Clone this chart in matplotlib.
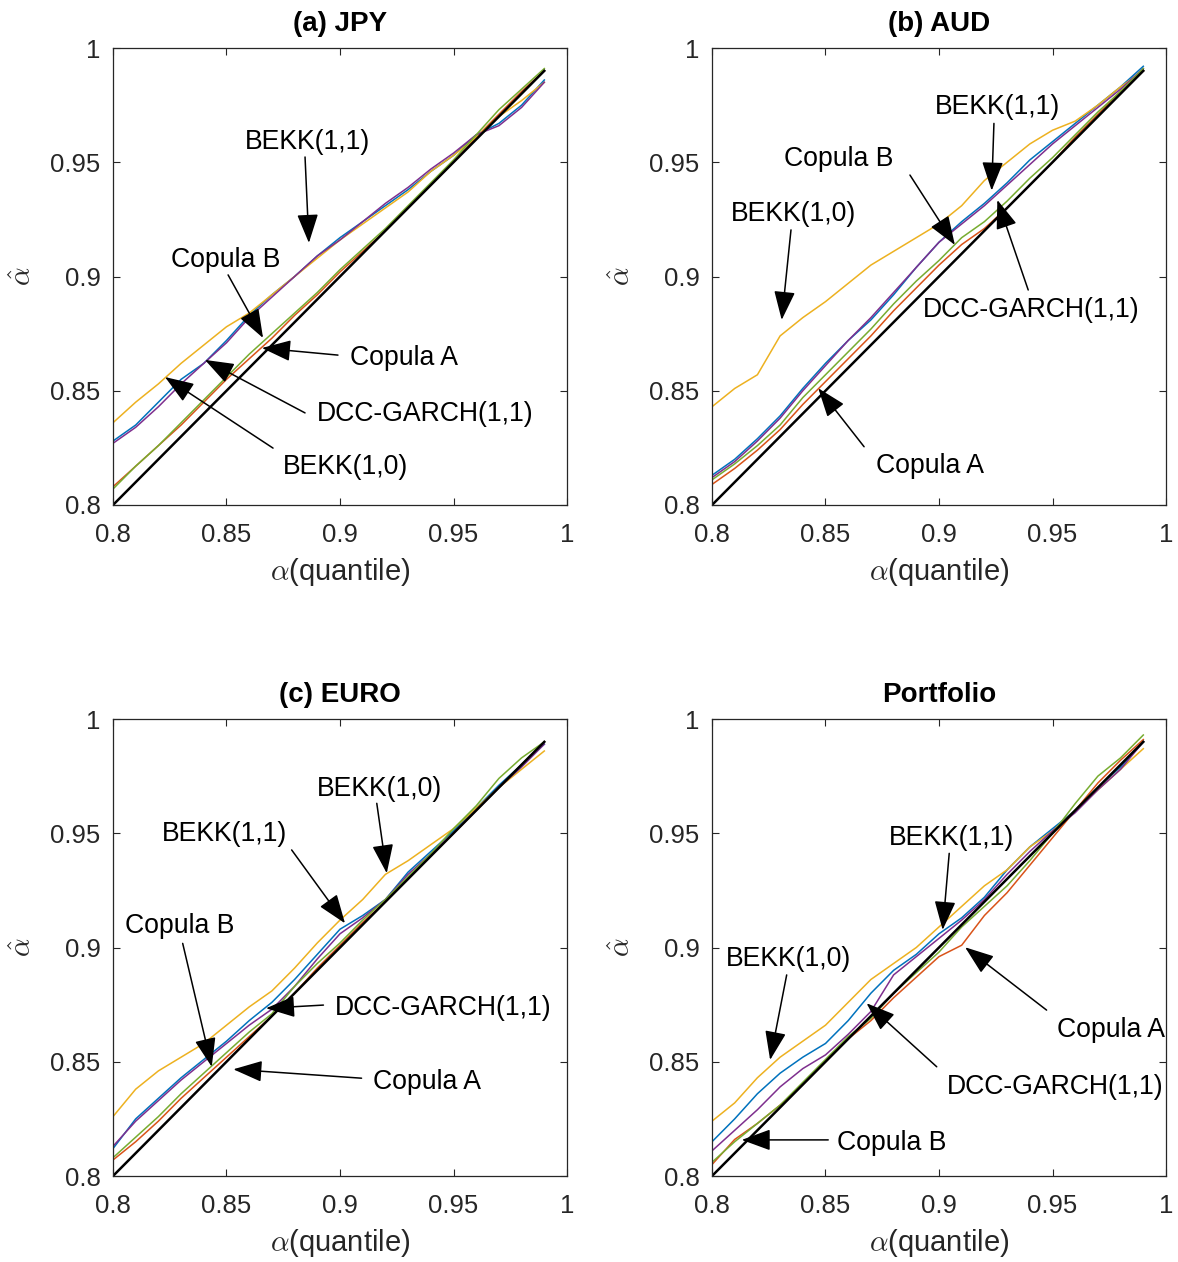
import matplotlib
matplotlib.use("Agg")
import matplotlib.pyplot as plt

plt.rcParams['font.family'] = ['Liberation Sans', 'DejaVu Sans']
plt.rcParams['mathtext.fontset'] = 'cm'

# ---------------- data ----------------
alpha_grid = [0.80, 0.81, 0.82, 0.83, 0.84, 0.85, 0.86, 0.87, 0.88, 0.89,
              0.90, 0.91, 0.92, 0.93, 0.94, 0.95, 0.96, 0.97, 0.98, 0.99]

panel_titles = ["(a) JPY", "(b) AUD", "(c) EURO", "Portfolio"]
model_names = ["BEKK(1,1)", "Copula A", "BEKK(1,0)", "DCC-GARCH(1,1)", "Copula B"]

# JPY
jpy_bekk11 = [0.828, 0.835, 0.845, 0.855, 0.862, 0.872, 0.883, 0.892, 0.900, 0.909,
              0.917, 0.924, 0.931, 0.938, 0.946, 0.953, 0.962, 0.967, 0.975, 0.986]
jpy_copulaA = [0.808, 0.817, 0.826, 0.835, 0.845, 0.855, 0.864, 0.873, 0.883, 0.892,
               0.902, 0.911, 0.920, 0.930, 0.940, 0.950, 0.961, 0.971, 0.981, 0.990]
jpy_bekk10 = [0.836, 0.845, 0.853, 0.862, 0.870, 0.878, 0.884, 0.892, 0.900, 0.908,
              0.916, 0.923, 0.930, 0.937, 0.946, 0.953, 0.961, 0.970, 0.977, 0.985]
jpy_dcc = [0.827, 0.834, 0.843, 0.853, 0.862, 0.871, 0.882, 0.891, 0.900, 0.909,
           0.916, 0.924, 0.932, 0.939, 0.947, 0.954, 0.962, 0.966, 0.974, 0.985]
jpy_copulaB = [0.807, 0.817, 0.826, 0.836, 0.846, 0.856, 0.866, 0.875, 0.884, 0.893,
               0.903, 0.912, 0.921, 0.931, 0.941, 0.951, 0.962, 0.973, 0.982, 0.991]

# AUD
aud_bekk11 = [0.813, 0.820, 0.829, 0.839, 0.851, 0.862, 0.872, 0.881, 0.892, 0.904,
              0.915, 0.924, 0.932, 0.941, 0.951, 0.959, 0.967, 0.975, 0.983, 0.992]
aud_copulaA = [0.809, 0.816, 0.824, 0.833, 0.844, 0.854, 0.864, 0.874, 0.885, 0.895,
               0.905, 0.914, 0.921, 0.930, 0.940, 0.950, 0.961, 0.971, 0.981, 0.990]
aud_bekk10 = [0.843, 0.851, 0.857, 0.874, 0.882, 0.889, 0.897, 0.905, 0.911, 0.917,
              0.923, 0.931, 0.942, 0.950, 0.958, 0.964, 0.968, 0.975, 0.983, 0.990]
aud_dcc = [0.812, 0.819, 0.828, 0.838, 0.850, 0.861, 0.872, 0.882, 0.893, 0.904,
           0.915, 0.923, 0.931, 0.940, 0.949, 0.958, 0.966, 0.974, 0.982, 0.991]
aud_copulaB = [0.811, 0.818, 0.826, 0.835, 0.847, 0.857, 0.867, 0.877, 0.888, 0.898,
               0.907, 0.917, 0.924, 0.933, 0.943, 0.952, 0.962, 0.972, 0.981, 0.991]

# EURO
euro_bekk11 = [0.812, 0.825, 0.834, 0.843, 0.851, 0.859, 0.868, 0.876, 0.886, 0.897,
               0.908, 0.914, 0.921, 0.933, 0.942, 0.951, 0.961, 0.971, 0.980, 0.989]
euro_copulaA = [0.807, 0.815, 0.824, 0.834, 0.843, 0.852, 0.861, 0.870, 0.880, 0.891,
                0.901, 0.911, 0.920, 0.930, 0.940, 0.950, 0.960, 0.970, 0.980, 0.990]
euro_bekk10 = [0.826, 0.838, 0.846, 0.852, 0.858, 0.866, 0.874, 0.881, 0.891, 0.902,
               0.912, 0.921, 0.932, 0.938, 0.945, 0.952, 0.961, 0.970, 0.978, 0.986]
euro_dcc = [0.813, 0.824, 0.833, 0.842, 0.850, 0.858, 0.866, 0.873, 0.883, 0.895,
            0.906, 0.913, 0.921, 0.932, 0.941, 0.950, 0.960, 0.970, 0.979, 0.989]
euro_copulaB = [0.808, 0.817, 0.826, 0.836, 0.845, 0.854, 0.863, 0.871, 0.883, 0.893,
                0.902, 0.912, 0.921, 0.931, 0.941, 0.952, 0.962, 0.974, 0.983, 0.990]

# Portfolio
port_bekk11 = [0.815, 0.825, 0.836, 0.845, 0.852, 0.858, 0.868, 0.880, 0.890, 0.897,
               0.906, 0.913, 0.922, 0.934, 0.944, 0.952, 0.960, 0.970, 0.979, 0.990]
port_copulaA = [0.805, 0.816, 0.823, 0.831, 0.840, 0.850, 0.860, 0.868, 0.878, 0.887,
                0.896, 0.901, 0.914, 0.924, 0.936, 0.948, 0.960, 0.972, 0.982, 0.991]
port_bekk10 = [0.824, 0.832, 0.843, 0.852, 0.859, 0.866, 0.876, 0.886, 0.893, 0.900,
               0.909, 0.918, 0.927, 0.934, 0.944, 0.951, 0.960, 0.969, 0.978, 0.987]
port_dcc = [0.811, 0.820, 0.829, 0.839, 0.847, 0.853, 0.862, 0.872, 0.888, 0.896,
            0.904, 0.912, 0.921, 0.932, 0.942, 0.951, 0.959, 0.969, 0.978, 0.990]
port_copulaB = [0.806, 0.815, 0.823, 0.831, 0.841, 0.851, 0.861, 0.869, 0.880, 0.889,
                0.898, 0.909, 0.918, 0.927, 0.938, 0.950, 0.963, 0.975, 0.983, 0.993]

xtick_vals = [0.8, 0.85, 0.9, 0.95, 1.0]
xtick_labels = ["0.8", "0.85", "0.9", "0.95", "1"]

panel_series = [
    [jpy_bekk11, jpy_copulaA, jpy_bekk10, jpy_dcc, jpy_copulaB],
    [aud_bekk11, aud_copulaA, aud_bekk10, aud_dcc, aud_copulaB],
    [euro_bekk11, euro_copulaA, euro_bekk10, euro_dcc, euro_copulaB],
    [port_bekk11, port_copulaA, port_bekk10, port_dcc, port_copulaB],
]

# annotations: (label, text xy, arrow tail xy, arrow tip xy) in data coords
panel_annotations = [
    [("BEKK(1,1)", (0.8859, 0.9589), (0.8846, 0.9523), (0.8863, 0.9147)),
     ("Copula B", (0.8498, 0.9072), (0.8507, 0.9007), (0.8661, 0.8731)),
     ("Copula A", (0.9282, 0.8643), (0.8991, 0.8656), (0.8656, 0.8687)),
     ("DCC-GARCH(1,1)", (0.9374, 0.8398), (0.8846, 0.8403), (0.8405, 0.8635)),
     ("BEKK(1,0)", (0.9026, 0.8166), (0.8705, 0.8249), (0.8229, 0.8560))],
    [("BEKK(1,1)", (0.9256, 0.9742), (0.9242, 0.9670), (0.9232, 0.9376)),
     ("Copula B", (0.8559, 0.9514), (0.8872, 0.9444), (0.9070, 0.9138)),
     ("BEKK(1,0)", (0.8361, 0.9274), (0.8348, 0.9204), (0.8307, 0.8810)),
     ("DCC-GARCH(1,1)", (0.9405, 0.8853), (0.9393, 0.8941), (0.9257, 0.9335)),
     ("Copula A", (0.8960, 0.8171), (0.8670, 0.8255), (0.8468, 0.8511))],
    [("BEKK(1,0)", (0.9176, 0.9694), (0.9162, 0.9631), (0.9206, 0.9325)),
     ("BEKK(1,1)", (0.8493, 0.9497), (0.8787, 0.9427), (0.9022, 0.9106)),
     ("Copula B", (0.8295, 0.9094), (0.8307, 0.9018), (0.8435, 0.8478)),
     ("DCC-GARCH(1,1)", (0.9454, 0.8735), (0.8927, 0.8748), (0.8674, 0.8734)),
     ("Copula A", (0.9383, 0.8411), (0.9095, 0.8428), (0.8530, 0.8467))],
    [("BEKK(1,1)", (0.9057, 0.9479), (0.9045, 0.9412), (0.9016, 0.9077)),
     ("BEKK(1,0)", (0.8339, 0.8950), (0.8329, 0.8880), (0.8256, 0.8508)),
     ("Copula A", (0.9758, 0.8639), (0.9474, 0.8726), (0.9115, 0.9001)),
     ("DCC-GARCH(1,1)", (0.9511, 0.8389), (0.8990, 0.8478), (0.8681, 0.8756)),
     ("Copula B", (0.8793, 0.8144), (0.8512, 0.8158), (0.8131, 0.8158))],
]

# ---------------- style ----------------
colors = ["#0072BD", "#D95319", "#EDB120", "#7E2F8E", "#77AC30"]
axcol = "#262626"
FS = 18.5
AFS = 19.2

W, H = 1178, 1262
fig = plt.figure(figsize=(W / 100, H / 100), dpi=100)

lefts = [113, 712, 113, 712]
tops = [48, 48, 719, 719]
aw, ah = 454, 457

for i in range(4):
    ax = fig.add_axes([lefts[i] / W, 1 - (tops[i] + ah) / H, aw / W, ah / H])
    for s, c in zip(panel_series[i], colors):
        ax.plot(alpha_grid, s, color=c, lw=1.1)
    ax.plot(alpha_grid, alpha_grid, color='k', lw=1.8)
    ax.set_xlim(0.8, 1.0)
    ax.set_ylim(0.8, 1.0)
    ax.set_xticks(xtick_vals)
    ax.set_xticklabels(xtick_labels)
    ax.set_yticks(xtick_vals)
    ax.set_yticklabels(xtick_labels)
    ax.tick_params(direction='in', length=5, width=0.8, top=True, right=True,
                   labelsize=FS, colors=axcol)
    ax.tick_params(axis='x', pad=13)
    ax.tick_params(axis='y', pad=9)
    for sp in ax.spines.values():
        sp.set_color(axcol)
        sp.set_linewidth(0.9)
    ax.set_title(panel_titles[i], fontsize=20, fontweight='bold', pad=12.5, color='k')
    ax.set_xlabel(r'$\alpha$(quantile)', fontsize=21, color=axcol)
    ax.xaxis.set_label_coords(0.5, -0.112)
    ax.set_ylabel(r'$\hat{\alpha}$', fontsize=21, color=axcol)
    ax.yaxis.set_label_coords(-0.17, 0.5)
    for label, txy, tail, tip in panel_annotations[i]:
        ax.annotate('', xy=tip, xytext=tail,
                    arrowprops=dict(arrowstyle='-|>,head_length=0.9,head_width=0.33',
                                    mutation_scale=20, color='k', lw=1.1,
                                    shrinkA=0, shrinkB=0))
        ax.text(txy[0], txy[1], label, fontsize=AFS, ha='center', va='center', color='k')

fig.savefig("out.png", dpi=100, facecolor='white')
